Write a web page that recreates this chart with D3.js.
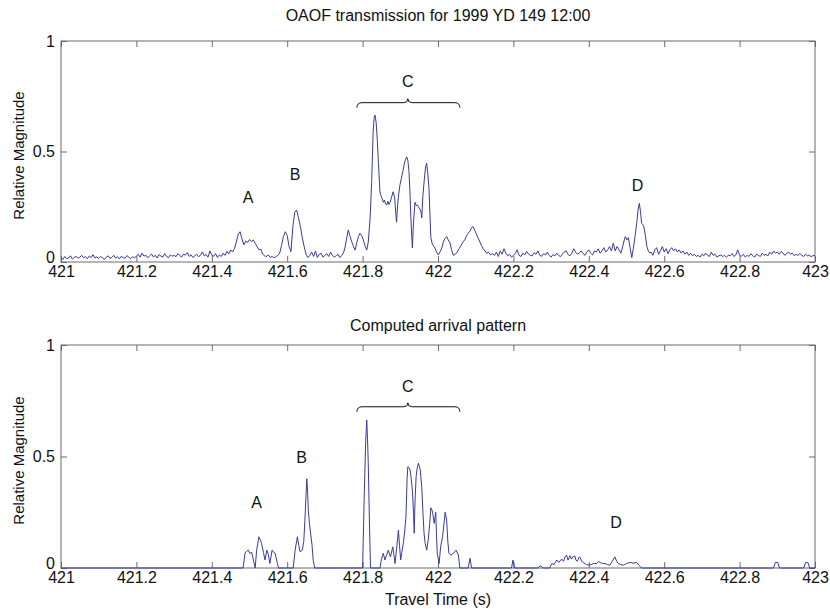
<!DOCTYPE html>
<html><head><meta charset="utf-8">
<script src="https://cdn.jsdelivr.net/npm/d3@7"></script>
<style>
body{margin:0;background:#fff;}
svg text{font-family:"Liberation Sans",Arial,Helvetica,sans-serif;}
</style>
</head><body>
<svg id="chart" width="830" height="609"></svg>
<script>
// ---------------- data ----------------
const xTickValues = [421, 421.2, 421.4, 421.6, 421.8, 422, 422.2, 422.4, 422.6, 422.8, 423];
const xTickLabels = ["421", "421.2", "421.4", "421.6", "421.8", "422", "422.2", "422.4", "422.6", "422.8", "423"];
const yTickValues = [0, 0.5, 1];
const yTickLabels = ["0", "0.5", "1"];
const panelTitles = ["OAOF transmission for 1999 YD 149 12:00", "Computed arrival pattern"];
const xAxisLabel = "Travel Time (s)";
const yAxisLabel = "Relative Magnitude";

// measured trace (top) - uniformly sampled pieces every 0.005 s
const topSampleStep = 0.005;
const topSegStarts = [421.000, 422.150, 422.565];
const topSeg1 = [
  0.02,0.012,0.025,0.015,0.018,0.028,0.014,0.02,0.026,0.017,0.022,0.03,0.019,0.024,0.015,0.027,0.02,0.033,0.018,0.023,0.016,
  0.025,0.019,0.012,0.022,0.028,0.016,0.021,0.03,0.018,0.024,0.014,0.026,0.02,0.017,0.029,0.022,0.015,0.024,0.019,0.027,
  0.035,0.022,0.04,0.026,0.031,0.019,0.028,0.036,0.023,0.03,0.018,0.034,0.027,0.022,0.038,0.025,0.02,0.032,0.026,0.03,
  0.024,0.038,0.029,0.022,0.036,0.031,0.042,0.025,0.033,0.02,0.028,0.035,0.024,0.03,0.046,0.028,0.034,0.022,0.05,0.03,
  0.026,0.038,0.02,0.032,
  0.025,0.04,0.03,0.048,0.036,0.055,0.045,0.06,0.09,0.125,0.137,0.105,0.078,0.095,0.088,0.102,0.092,0.1,0.085,0.07,
  0.055,0.058,0.035,0.028,0.025,0.032,0.02,0.026,0.018,0.024,0.03,0.04,0.075,0.115,0.137,0.12,0.07,0.047,0.16,0.225,
  0.235,0.2,0.16,0.11,0.07,0.035,0.02,0.03,
  0.045,0.025,0.05,0.02,0.035,0.04,0.022,0.03,0.038,0.025,0.045,0.03,0.022,0.028,0.035,0.02
];
const topSeg2 = [
  0.03,0.045,0.025,0.05,0.035,0.06,0.04,0.028,0.035,0.022,0.03,0.038,0.055,0.03,0.025,0.04,0.032,0.048,0.036,0.03,
  0.028,0.042,0.035,0.05,0.03,0.026,0.038,0.032,0.045,0.03,0.022,0.034,0.028,0.04,0.03,0.024,0.036,0.045,0.05,0.034,
  0.028,0.04,0.06,0.045,0.035,0.042,0.05,0.038,0.03,0.045,0.055,0.04,0.032,0.05,0.045,0.06,0.04,0.05,0.065,0.045,
  0.055,0.07,0.05,0.085,0.05,0.07,0.055,0.04
];
const topSeg3 = [
  0.045,0.03,0.055,0.065,0.035,0.05,0.07,0.045,0.06,0.038,0.055,0.065,0.05,0.06,0.045,0.055,0.04,0.05,0.035,0.045,
  0.03,0.04,0.028,0.035,0.025,0.03,0.022,0.035,0.028,0.04,0.03,0.025,0.045,0.03,0.035,0.022,0.028,0.032,0.025,0.03,
  0.022,0.03,0.028,0.038,0.025,0.032,0.055,0.03,0.026,0.035,0.022,0.03,0.025,0.038,0.028,0.022,0.035,0.03,0.025,0.04,
  0.03,0.035,0.028,0.045,0.035,0.05,0.04,0.045,0.035,0.048,0.04,0.03,0.038,0.045,0.035,0.04,0.028,0.035,0.03,0.038,
  0.03,0.025,0.035,0.028,0.032,0.022,0.03,0.028
];
// cluster C (irregular sampling)
const topCTimes = [421.745,421.750,421.753,421.757,421.762,421.766,421.771,421.776,421.780,421.785,421.789,421.793,421.798,421.802,421.806,421.811,421.815,421.820,421.824,421.828,421.831,421.833,421.836,421.839,421.842,421.846,421.849,421.852,421.855,421.858,421.861,421.864,421.867,421.870,421.873,421.877,421.881,421.885,421.888,421.890,421.893,421.896,421.899,421.903,421.908,421.912,421.917,421.920,421.923,421.926,421.928,421.932,421.935,421.939,421.942,421.945,421.948,421.952,421.955,421.957,421.960,421.964,421.967,421.970,421.973,421.976,421.979,421.981,421.985,421.989,421.992,421.996,422.001,422.005,422.010,422.014,422.018,422.023,422.027,422.032,422.036,422.041,422.046,422.051,422.056,422.061,422.066,422.071,422.076,422.080,422.085,422.089,422.093,422.097,422.101,422.106,422.110,422.115,422.120,422.125,422.129,422.134,422.139,422.144];
const topCValues = [0.03,0.045,0.063,0.1,0.145,0.12,0.092,0.07,0.054,0.09,0.115,0.13,0.118,0.1,0.075,0.054,0.09,0.2,0.36,0.59,0.66,0.665,0.63,0.55,0.45,0.318,0.3,0.285,0.27,0.28,0.262,0.258,0.275,0.26,0.27,0.295,0.318,0.29,0.22,0.18,0.26,0.31,0.348,0.38,0.42,0.455,0.476,0.46,0.41,0.3,0.2,0.063,0.18,0.27,0.255,0.258,0.25,0.24,0.225,0.2,0.3,0.38,0.43,0.447,0.4,0.335,0.2,0.11,0.08,0.07,0.063,0.045,0.032,0.045,0.063,0.09,0.105,0.115,0.1,0.086,0.055,0.03,0.035,0.045,0.06,0.075,0.09,0.1,0.12,0.13,0.14,0.155,0.16,0.145,0.13,0.11,0.095,0.075,0.06,0.05,0.04,0.045,0.032,0.038];
// arrival D
const topDTimes = [422.490,422.494,422.497,422.501,422.505,422.509,422.514,422.518,422.523,422.527,422.531,422.534,422.537,422.540,422.543,422.546,422.550,422.554,422.558,422.562];
const topDValues = [0.07,0.1,0.115,0.1,0.11,0.07,0.02,0.06,0.12,0.175,0.24,0.265,0.23,0.175,0.17,0.16,0.12,0.07,0.05,0.04];

// computed arrival pattern (bottom)
const botTimes = [421.000,421.483,421.488,421.492,421.497,421.501,421.506,421.511,421.515,421.519,421.525,421.529,421.532,421.537,421.541,421.546,421.550,421.554,421.560,421.564,421.568,421.574,421.577,
  421.616,421.621,421.627,421.631,421.634,421.640,421.644,421.647,421.650,421.652,421.654,421.656,421.659,421.662,421.666,421.669,421.673,
  421.800,421.804,421.808,421.811,421.813,421.815,421.818,421.821,
  421.846,421.850,421.855,421.859,421.864,421.868,421.874,421.880,421.883,421.886,421.891,421.895,421.898,421.901,421.904,421.908,421.912,421.915,421.918,421.920,421.923,421.926,421.929,421.932,421.935,421.937,421.939,421.942,421.945,421.948,421.950,421.953,421.957,421.960,421.963,421.966,421.970,421.974,421.978,421.981,421.984,421.986,421.990,421.994,421.996,421.998,422.003,422.007,422.012,422.016,422.019,422.023,422.026,422.029,422.034,422.041,422.048,422.054,422.058,
  422.080,422.085,422.089,422.195,422.199,422.203,422.265,422.271,422.280,
  422.296,422.302,422.308,422.315,422.320,422.328,422.333,422.337,422.341,422.345,422.350,422.354,422.358,422.363,422.366,422.370,422.374,422.377,422.381,422.385,422.394,422.403,422.412,422.421,422.426,422.430,422.436,422.443,422.450,422.456,422.462,422.469,422.474,422.478,422.485,422.492,422.500,422.509,422.518,422.527,422.533,422.540,
  422.890,422.895,422.901,422.906,422.970,422.975,422.981,422.986,423.000];
const botValues = [0,0,0.066,0.075,0.08,0.065,0.07,0.03,0,0.08,0.14,0.125,0.11,0.07,0.036,0.08,0.06,0.02,0.08,0.07,0.066,0.02,0,
  0,0.08,0.14,0.1,0.073,0.08,0.12,0.215,0.33,0.40,0.35,0.26,0.2,0.157,0.1,0.035,0,
  0,0.3,0.56,0.664,0.58,0.47,0.215,0,
  0,0.04,0.066,0.036,0.06,0.08,0.05,0.095,0.06,0.02,0.1,0.17,0.1,0.036,0.07,0.11,0.17,0.23,0.4,0.454,0.45,0.44,0.4,0.35,0.25,0.156,0.3,0.41,0.45,0.47,0.46,0.44,0.36,0.25,0.156,0.11,0.08,0.125,0.2,0.27,0.26,0.246,0.2,0.25,0.15,0.066,0.02,0.095,0.14,0.2,0.25,0.215,0.12,0.066,0.058,0.066,0.08,0.058,0,
  0,0.044,0,0,0.036,0,0,0.01,0,
  0,0.02,0.015,0.036,0.025,0.04,0.03,0.05,0.058,0.035,0.055,0.04,0.05,0.054,0.035,0.03,0.048,0.048,0.03,0.025,0.015,0.013,0.02,0.02,0.03,0.025,0.02,0.02,0.015,0.013,0.03,0.05,0.03,0.02,0.015,0.013,0.02,0.025,0.022,0.025,0.012,0,
  0,0.025,0.025,0,0,0.025,0.025,0,0];

// annotations (data coordinates)
const annLetters = ["A", "B", "C", "D"];
const topAnnT = [421.496, 421.621, 421.920, 422.529];
const topAnnV = [0.29, 0.398, 0.819, 0.348];
const botAnnT = [421.519, 421.638, 421.920, 422.472];
const botAnnV = [0.294, 0.496, 0.812, 0.202];
const braceT = [421.785, 421.920, 422.058];
const braceV = [0.721, 0.723];

// ---------------- build series ----------------
function uniform(start, vals) { return vals.map((v, i) => ({t: start + i * topSampleStep, v})); }
const topSeries = [].concat(
  uniform(topSegStarts[0], topSeg1),
  topCTimes.map((t, i) => ({t, v: topCValues[i]})),
  uniform(topSegStarts[1], topSeg2),
  topDTimes.map((t, i) => ({t, v: topDValues[i]})),
  uniform(topSegStarts[2], topSeg3)
);
const botSeries = botTimes.map((t, i) => ({t, v: botValues[i]}));

// ---------------- draw ----------------
const svg = d3.select("#chart");
svg.append("rect").attr("width", 830).attr("height", 609).attr("fill", "#fff");

const left = 61, right = 815;
const panels = [
  {top: 41, bottom: 262, data: topSeries, title: panelTitles[0], titleY: 21, annT: topAnnT, annV: topAnnV, brace: braceV[0]},
  {top: 345, bottom: 568, data: botSeries, title: panelTitles[1], titleY: 331, annT: botAnnT, annV: botAnnV, brace: braceV[1]}
];
const axisColor = "#6a6a6a";
const lineColor = "#3a3a9e";

panels.forEach((p, pi) => {
  const x = d3.scaleLinear().domain([421, 423]).range([left, right]);
  const y = d3.scaleLinear().domain([0, 1]).range([p.bottom, p.top]);
  const g = svg.append("g");

  const fmtX = (d, i) => xTickLabels[i];
  const fmtY = (d, i) => yTickLabels[i];
  const ax = [
    g.append("g").attr("transform", `translate(0,${p.bottom})`).call(d3.axisBottom(x).tickValues(xTickValues).tickFormat(fmtX).tickSize(-6).tickSizeOuter(0).tickPadding(4)),
    g.append("g").attr("transform", `translate(0,${p.top})`).call(d3.axisTop(x).tickValues(xTickValues).tickFormat("").tickSize(-6).tickSizeOuter(0)),
    g.append("g").attr("transform", `translate(${left},0)`).call(d3.axisLeft(y).tickValues(yTickValues).tickFormat(fmtY).tickSize(-6).tickSizeOuter(0).tickPadding(6)),
    g.append("g").attr("transform", `translate(${right},0)`).call(d3.axisRight(y).tickValues(yTickValues).tickFormat("").tickSize(-6).tickSizeOuter(0))
  ];
  ax.forEach(a => {
    a.select(".domain").remove();
    a.selectAll("line").attr("stroke", axisColor);
    a.selectAll("text").attr("fill", "#111").style("font-size", "16px");
  });
  // lift the "0" label slightly so it sits just above the x tick label
  ax[2].selectAll(".tick text").filter(d => d === 0).attr("dy", "0.05em");
  g.append("rect").attr("x", left).attr("y", p.top).attr("width", right - left).attr("height", p.bottom - p.top)
    .attr("fill", "none").attr("stroke", axisColor).attr("stroke-width", 1);

  g.append("path").datum(p.data)
    .attr("d", d3.line().x(d => x(d.t)).y(d => y(d.v)))
    .attr("fill", "none").attr("stroke", lineColor).attr("stroke-width", 1);

  svg.append("text").attr("x", (left + right) / 2).attr("y", p.titleY).attr("text-anchor", "middle")
    .style("font-size", "16px").attr("fill", "#111").text(p.title);

  svg.append("text").attr("transform", `translate(24,${(p.top + p.bottom) / 2 + 4}) rotate(-90)`)
    .attr("text-anchor", "middle").style("font-size", "15px").attr("fill", "#111").text(yAxisLabel);

  annLetters.forEach((L, i) => {
    g.append("text").attr("x", x(p.annT[i])).attr("y", y(p.annV[i])).attr("text-anchor", "middle")
      .attr("dominant-baseline", "central").style("font-size", "16px").attr("fill", "#111").text(L);
  });
  const bx0 = x(braceT[0]), bxm = x(braceT[1]), bx1 = x(braceT[2]), by = y(p.brace);
  const bp = `M${bx0},${by + 5} Q${bx0},${by} ${bx0 + 5},${by} L${bxm - 4},${by} Q${bxm},${by} ${bxm},${by - 4} Q${bxm},${by} ${bxm + 4},${by} L${bx1 - 5},${by} Q${bx1},${by} ${bx1},${by + 5}`;
  g.append("path").attr("d", bp).attr("fill", "none").attr("stroke", "#111").attr("stroke-width", 1);
});

svg.append("text").attr("x", (left + right) / 2).attr("y", 605).attr("text-anchor", "middle")
  .style("font-size", "16px").attr("fill", "#111").text(xAxisLabel);
</script>
</body></html>
